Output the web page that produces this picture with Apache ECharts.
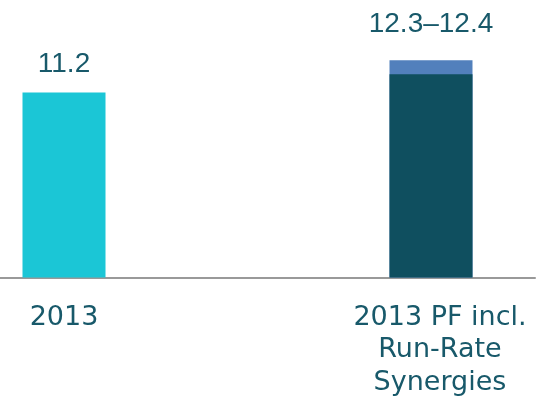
<!DOCTYPE html>
<html>
<head>
<meta charset="utf-8">
<script src="https://cdn.jsdelivr.net/npm/echarts@6/dist/echarts.min.js"></script>
<style>
  html, body { margin: 0; padding: 0; background: #fff; }
  #chart { width: 537px; height: 402px; }
</style>
</head>
<body>
<div id="chart"></div>
<script>
const categories = ['2013', '2013 PF incl.\nRun-Rate\nSynergies'];
const slots = [0, 1];
const baseValues = [11.2, 12.3];
// drawn top of the synergy range band (exaggerated in the source graphic)
const bandTop = [null, 13.15];
const rangeLow = 12.3;
const rangeHigh = 12.4;

const textColor = '#18596A';

const chart = echarts.init(document.getElementById('chart'));
const option = {
  animation: false,
  grid: {
    left: 0,
    right: 2,
    top: 46.3,
    bottom: 122.5,
  },
  xAxis: {
    type: 'value',
    min: -0.1744,
    max: 1.2834,
    splitLine: { show: false },
    axisLine: { show: true, lineStyle: { color: '#999999', width: 2 } },
    axisTick: { show: false },
    axisLabel: {
      customValues: slots,
      formatter: (v) => {
        const i = Math.round(v);
        return i === 1 ? '{s|' + categories[i] + '}' : categories[i];
      },
      color: textColor,
      fontFamily: 'DejaVu Sans',
      fontSize: 27,
      lineHeight: 32.5,
      margin: 22,
      rich: {
        s: {
          color: textColor,
          fontFamily: 'DejaVu Sans',
          fontSize: 27,
          lineHeight: 32.5,
          padding: [0, 0, 0, 18],
        },
      },
    },
  },
  yAxis: {
    type: 'value',
    min: -0.121,
    max: 14,
    show: false,
  },
  series: [
    {
      name: 'range',
      type: 'bar',
      barWidth: 83,
      barGap: '-100%',
      z: 1,
      itemStyle: { color: '#5280BC' },
      data: bandTop
        .map((v, i) => (v === null ? null : [slots[i], v]))
        .filter((d) => d !== null),
      label: {
        show: true,
        position: 'top',
        distance: 22,
        color: textColor,
        fontFamily: 'Liberation Sans',
        fontSize: 28,
        formatter: () => rangeLow.toFixed(1) + '–' + rangeHigh.toFixed(1),
      },
    },
    {
      name: 'base',
      type: 'bar',
      barWidth: 83,
      barGap: '-100%',
      z: 2,
      data: baseValues.map((v, i) => ({
        value: [slots[i], v],
        itemStyle: { color: i === 0 ? '#1BC6D6' : '#0F4F5F' },
        label: { show: i === 0 },
      })),
      label: {
        position: 'top',
        distance: 14,
        color: textColor,
        fontFamily: 'Liberation Sans',
        fontSize: 28,
        formatter: (p) => p.value[1].toFixed(1),
      },
    },
  ],
};
chart.setOption(option);
</script>
</body>
</html>
